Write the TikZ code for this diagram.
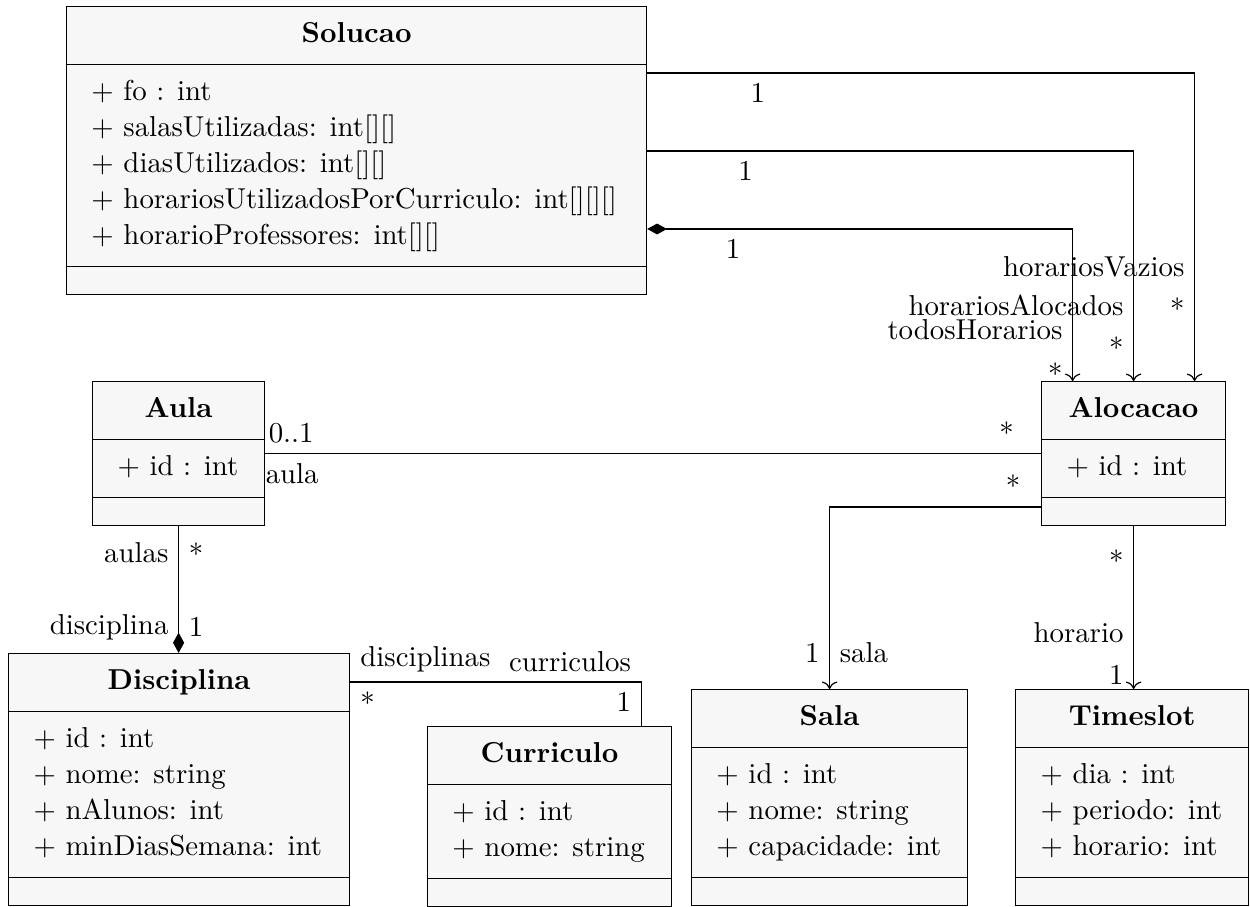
\documentclass[tikz,border=0pt]{standalone}
\usepackage{fontspec}
\usetikzlibrary{shapes.multipart,arrows.meta}

\tikzset{
  umlclass/.style={draw, fill=black!3, anchor=north west,
    rectangle split, rectangle split parts=3,
    rectangle split part align={center,left,left},
    inner xsep=8.3pt, inner ysep=3.45pt},
  composition/.style={{Diamond[length=6.8pt,width=3.7pt]}-},
}

\newcommand{\umlattrs}[1]{\begin{tabular}{@{}l@{}}#1\end{tabular}}
\newcommand{\umlnoops}{\hbox to 1pt{\vrule width 0pt height 2pt\hfil}}

\begin{document}
\fontsize{9.6pt}{12pt}\selectfont
\begin{tikzpicture}[x=1pt, y=1pt]

\useasboundingbox (0,0) rectangle (416.67,302.33);

% classes
\node[umlclass, minimum width=193.33pt] (solucao) at (22,300.33)
  {\strut\textbf{Solucao}
   \nodepart{two}\umlattrs{+ fo : int\\
     + salasUtilizadas: int[][]\\
     + diasUtilizados: int[][]\\
     + horariosUtilizadosPorCurriculo: int[][][]\\
     + horarioProfessores: int[][]}
   \nodepart{three}\umlnoops};

\node[umlclass, minimum width=57.33pt] (aula) at (30.67,175.33)
  {\strut\textbf{Aula}
   \nodepart{two}\umlattrs{+ id : int}
   \nodepart{three}\umlnoops};

\node[umlclass, minimum width=61.33pt] (alocacao) at (347,175.33)
  {\strut\textbf{Alocacao}
   \nodepart{two}\umlattrs{+ id : int}
   \nodepart{three}\umlnoops};

\node[umlclass, minimum width=113.67pt] (disciplina) at (2.67,84.67)
  {\strut\textbf{Disciplina}
   \nodepart{two}\umlattrs{+ id : int\\
     + nome: string\\
     + nAlunos: int\\
     + minDiasSemana: int}
   \nodepart{three}\umlnoops};

\node[umlclass, minimum width=81.33pt] (curriculo) at (142.33,60.33)
  {\strut\textbf{Curriculo}
   \nodepart{two}\umlattrs{+ id : int\\
     + nome: string}
   \nodepart{three}\umlnoops};

\node[umlclass, minimum width=92pt] (sala) at (230.33,72.67)
  {\strut\textbf{Sala}
   \nodepart{two}\umlattrs{+ id : int\\
     + nome: string\\
     + capacidade: int}
   \nodepart{three}\umlnoops};

\node[umlclass, minimum width=77.67pt] (timeslot) at (338.33,72.67)
  {\strut\textbf{Timeslot}
   \nodepart{two}\umlattrs{+ dia : int\\
     + periodo: int\\
     + horario: int}
   \nodepart{three}\umlnoops};

% Solucao -> Alocacao
\draw[->] ([yshift=-22.33pt]solucao.north east) -| ([xshift=20.33pt]alocacao.north)
  node[pos=0.101, below] {1}
  node[pos=0.815, left] {horariosVazios}
  node[pos=0.883, left] {*};

\draw[->] ([yshift=-48.33pt]solucao.north east) -| (alocacao.north)
  node[pos=0.101, below] {1}
  node[pos=0.835, left] {horariosAlocados}
  node[pos=0.928, left] {*};

\draw[{Diamond[length=6.6pt,width=3.6pt]}->] ([yshift=-74.33pt]solucao.north east) -| ([xshift=-20.33pt]alocacao.north)
  node[pos=0.101, below] {1}
  node[pos=0.832, left] {todosHorarios}
  node[pos=0.977, left] {*};

% Aula -- Alocacao
\draw (aula.east) -- (alocacao.west)
  node[pos=0, above right, inner xsep=1pt] {0..1}
  node[pos=0, below right, inner xsep=0pt] {aula}
  node[pos=0.978, above left] {*};

% Alocacao -> Sala, Timeslot
\draw[->] ([yshift=6.33pt]alocacao.south west) -| (sala.north)
  node[pos=0.025, above left] {*}
  node[pos=0.901, left] {1}
  node[pos=0.901, right] {sala};

\draw[->] (alocacao.south) -- (alocacao.south |- timeslot.north)
  node[pos=0.215, left] {*}
  node[pos=0.657, left] {horario}
  node[pos=0.914, left] {1};

% Disciplina <>-- Aula
\draw[composition] (aula.south |- disciplina.north) -- (aula.south)
  node[pos=0.787, left] {aulas}
  node[pos=0.78, right] {*}
  node[pos=0.205, left] {disciplina}
  node[pos=0.205, right] {1};

% Disciplina -- Curriculo
\draw ([yshift=-9.67pt]disciplina.north east) -| ([xshift=-10.33pt]curriculo.north east)
  node[pos=0, above right] {disciplinas}
  node[pos=0, below right] {*}
  node[pos=0.5, above left] {curriculos}
  node[pos=0.5, below left] {1};

\end{tikzpicture}
\end{document}
